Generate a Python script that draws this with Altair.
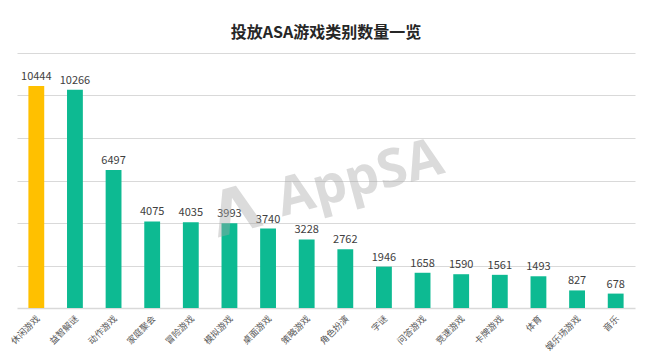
import altair as alt
import pandas as pd

categories = ["休闲游戏", "益智解谜", "动作游戏", "家庭聚会", "冒险游戏", "模拟游戏", "桌面游戏", "策略游戏",
              "角色扮演", "字谜", "问答游戏", "竞速游戏", "卡牌游戏", "体育", "娱乐场游戏", "音乐"]
values = [10444, 10266, 6497, 4075, 4035, 3993, 3740, 3228, 2762, 1946, 1658, 1590, 1561, 1493, 827, 678]
colors = ["#FFC000"] + ["#0DBA92"] * 15

df = pd.DataFrame({"cat": categories, "val": values, "color": colors})
FONT = "Noto Sans CJK SC"

x = alt.X("cat:N", sort=categories, title=None,
          scale=alt.Scale(paddingInner=0.59, paddingOuter=0.295),
          axis=alt.Axis(labelAngle=-45, labelFontSize=9, labelColor="#595959", labelFont=FONT,
                        ticks=False, grid=False, domainColor="#D9D9D9", domainWidth=1.5, labelPadding=6,
                        labelOffset=-1, labelAlign="right", labelBaseline="top"))
y = alt.Y("val:Q", title=None, scale=alt.Scale(domain=[0, 12000]),
          axis=alt.Axis(values=[2000, 4000, 6000, 8000, 10000, 12000], labels=False, ticks=False,
                        domain=False, grid=True, gridColor="#D9D9D9", gridWidth=1))

bars = alt.Chart(df).mark_bar().encode(x=x, y=y, color=alt.Color("color:N", scale=None))
text = alt.Chart(df).mark_text(dy=-9, fontSize=11, color="#404040", font=FONT).encode(
    x=alt.X("cat:N", sort=categories), y="val:Q", text="val:Q")

wm_df = pd.DataFrame({"t": ["AppSA"]})
wm = alt.Chart(wm_df).mark_text(fontSize=53, fontWeight="bold", color="#A6A6A6", opacity=0.4,
                                angle=345, font="Open Sans").encode(
    x=alt.value(343), y=alt.value(126), text="t:N")
logo_df = pd.DataFrame({"t": ["Λ"]})
logo = alt.Chart(logo_df).mark_text(fontSize=62, fontWeight="bold", color="#A6A6A6", opacity=0.4,
                                    angle=345, font="DejaVu Sans").encode(
    x=alt.value(219), y=alt.value(160), text="t:N")

chart = alt.layer(bars, text, wm, logo).properties(
    width=618, height=255,
    title=alt.Title("投放ASA游戏类别数量一览", fontSize=16, fontWeight="bold", font=FONT,
                    color="#262626", offset=12, anchor="middle"),
    autosize=alt.AutoSizeParams(type="none"),
    padding={"left": 9, "top": 45, "right": 7, "bottom": 54},
).configure_view(stroke=None)

chart.save("out.html", embed_options={"renderer": "svg", "actions": False})
